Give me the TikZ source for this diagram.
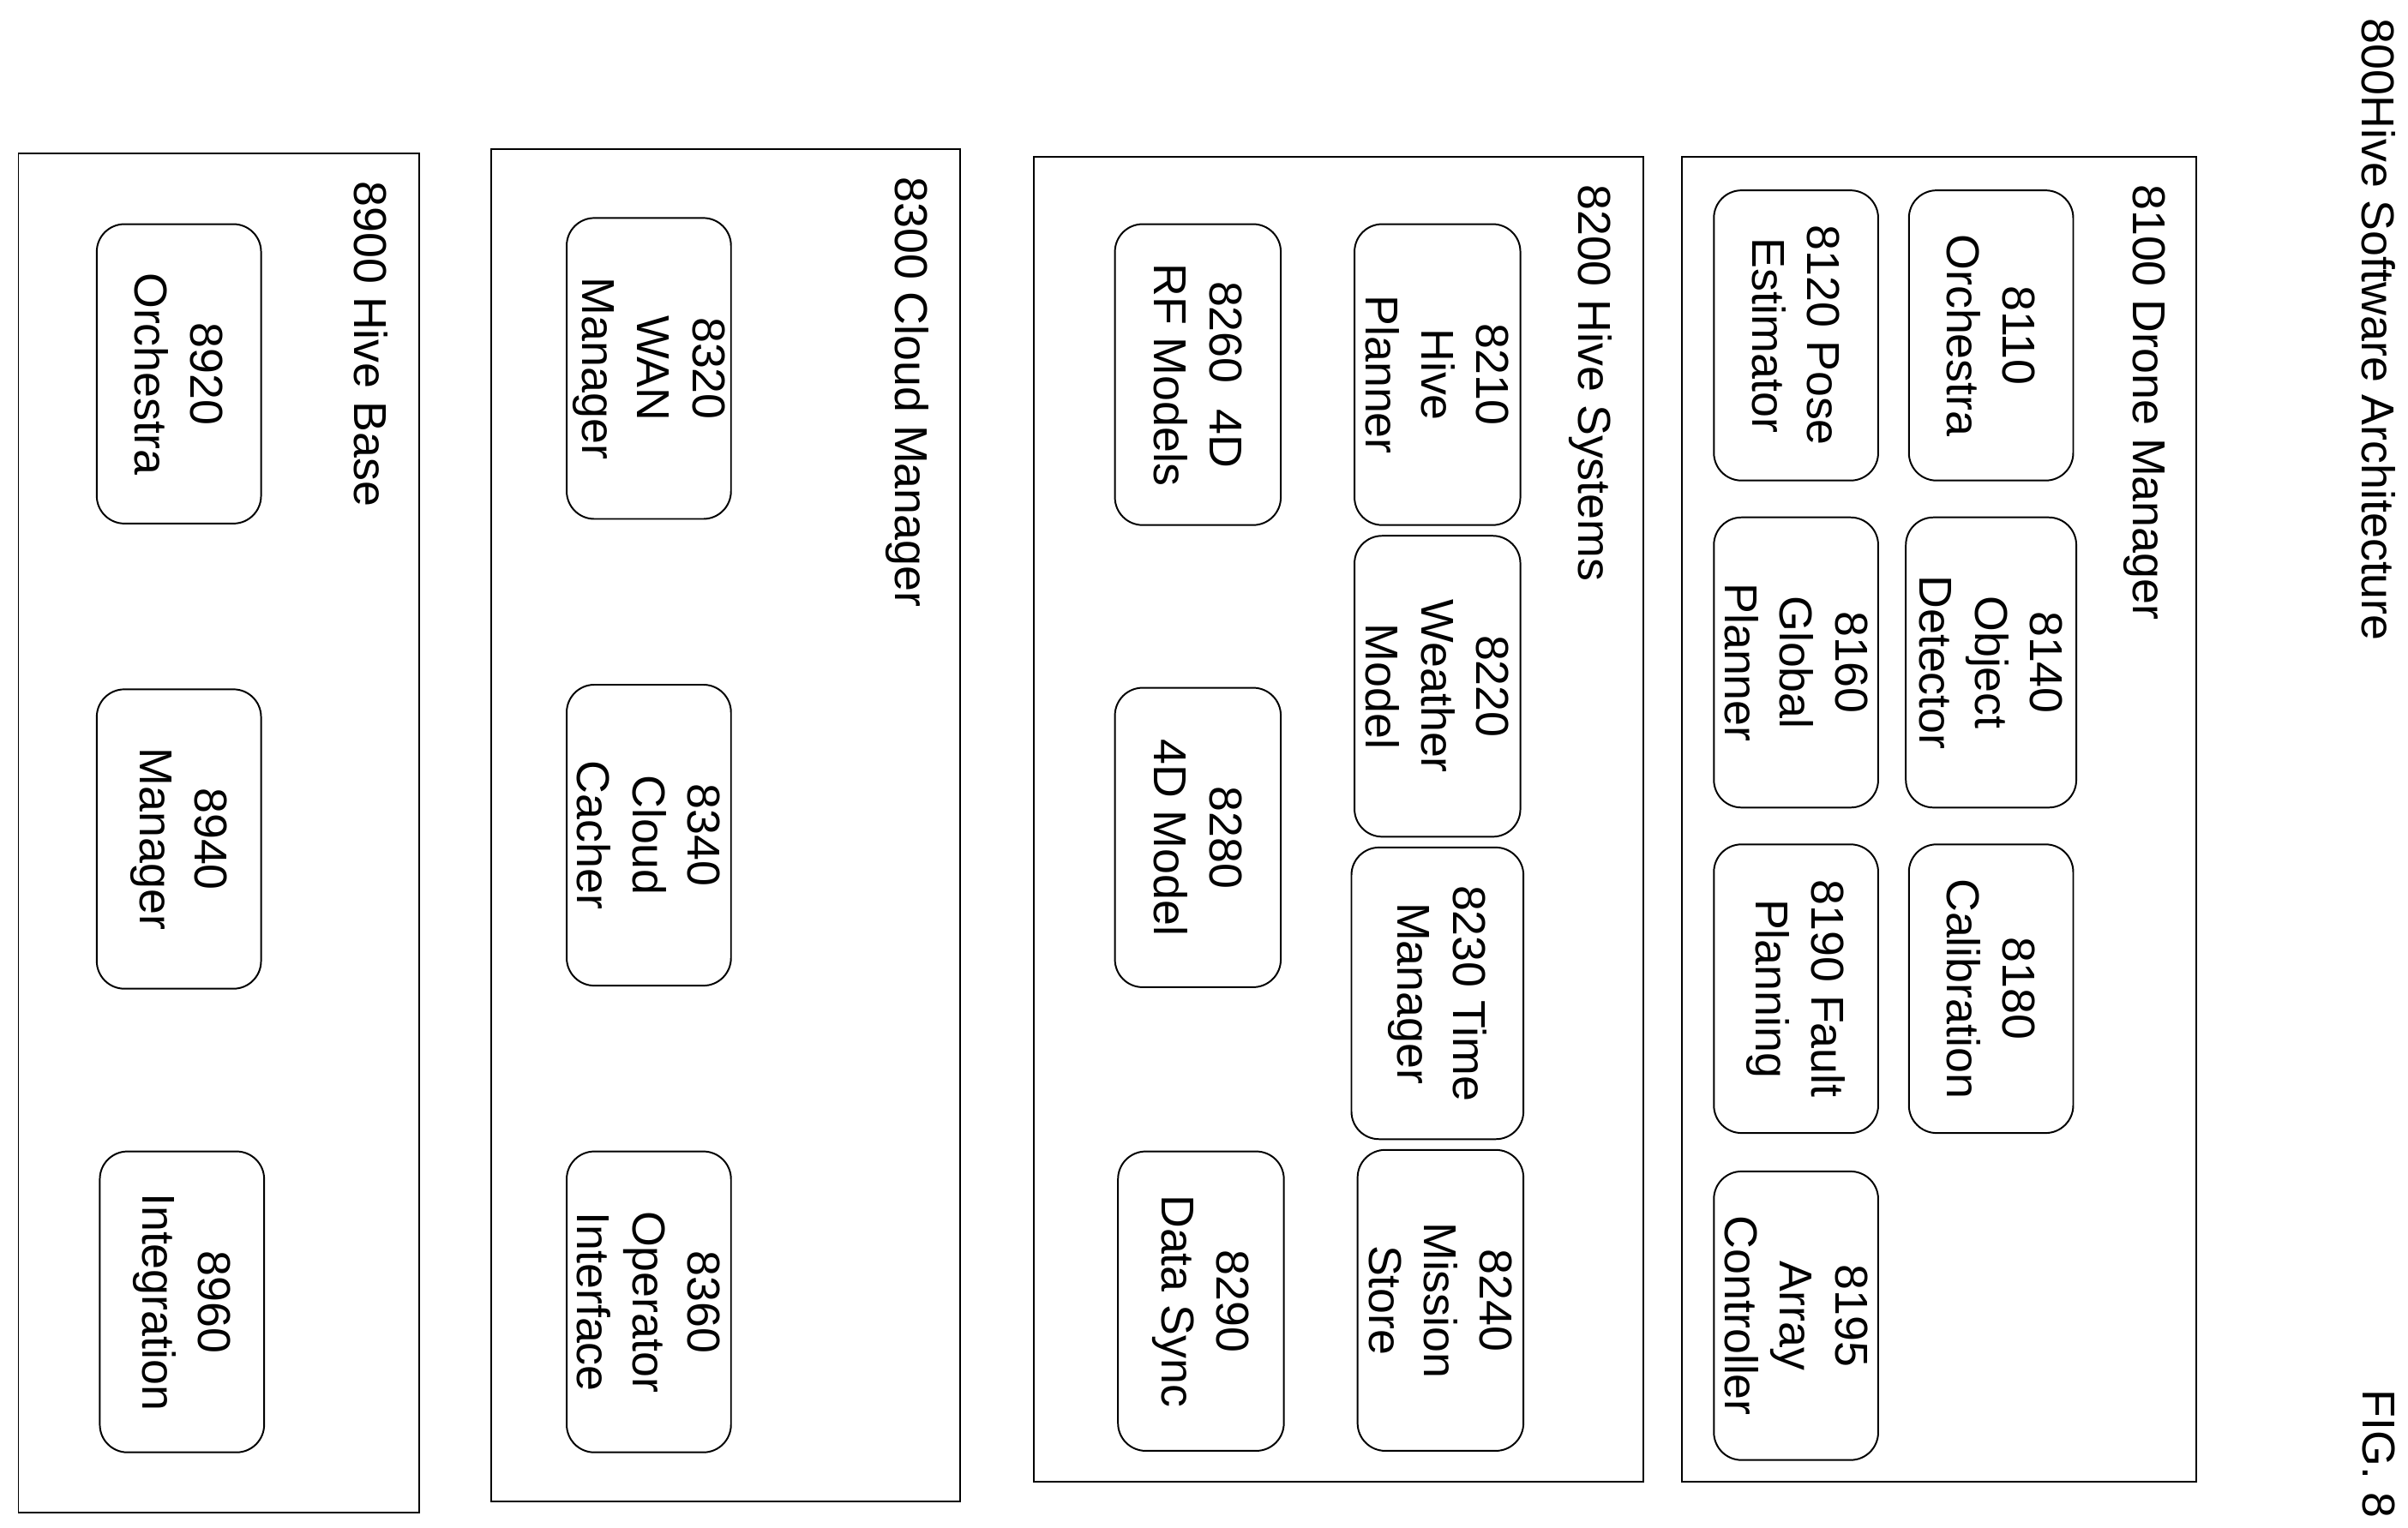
\documentclass[tikz,border=0pt]{standalone}
\usepackage{fontspec}
\setmainfont{Liberation Sans}
\begin{document}
\newcommand{\mybx}[7][inbox]{%
  \pgfmathsetmacro{\cx}{(#3+#4)/2}\pgfmathsetmacro{\cy}{(#5+#6)/2}%
  \pgfmathsetmacro{\ww}{#6-#5}\pgfmathsetmacro{\hh}{#4-#3}%
  \node[#1,minimum width=\ww pt,minimum height=\hh pt] (#2) at (\cx,\cy) {#7};}
\begin{tikzpicture}[x=1pt,y=-1pt,
  inbox/.style={draw,rounded corners=18pt,line width=1.1pt,rotate=-90,align=center,font=\fontsize{30}{36}\selectfont,inner sep=0pt},
  outbox/.style={draw,line width=1.1pt,rotate=-90,inner sep=0pt},
  lbl/.style={rotate=-90,anchor=north west,font=\fontsize{30}{36}\selectfont,inner sep=0pt}]
\useasboundingbox (0,0) rectangle (1568,995);
\node[lbl] (title) at (1560,12) {800Hive Software Architecture};
\node[lbl] (fig) at (1560,905) {FIG. 8};
\mybx[outbox]{g8100}{1095}{1430}{102}{965}{}
\mybx[outbox]{g8200}{673}{1070}{102}{965}{}
\mybx[outbox]{g8300}{320}{625}{97}{978}{}
\mybx[outbox]{g8900}{12}{273}{100}{985}{}
\node[lbl] (l8100) at (1410,120) {8100 Drone Manager};
\node[lbl] (l8200) at (1050,120) {8200 Hive Systems};
\node[lbl] (l8300) at (605,115) {8300 Cloud Manager};
\node[lbl] (l8900) at (253,118) {8900 Hive Base};
\mybx{b8110}{1243}{1350}{124}{313}{8110\\Orchestra}
\mybx{b8120}{1116}{1223}{124}{313}{8120 Pose\\Estimator}
\mybx{b8140}{1241}{1352}{337}{526}{8140\\Object\\Detector}
\mybx{b8160}{1116}{1223}{337}{526}{8160\\Global\\Planner}
\mybx{b8180}{1243}{1350}{550}{738}{8180\\Calibration}
\mybx{b8190}{1116}{1223}{550}{738}{8190 Fault\\Planning}
\mybx{b8195}{1116}{1223}{763}{951}{8195\\Array\\Controller}
\mybx{b8210}{882}{990}{146}{342}{8210\\Hive\\Planner}
\mybx{b8220}{882}{990}{349}{545}{8220\\Weather\\Model}
\mybx{b8230}{880}{992}{552}{742}{8230 Time\\Manager}
\mybx{b8240}{884}{992}{749}{945}{8240\\Mission\\Store}
\mybx{b8260}{726}{834}{146}{342}{8260\ \ 4D\\RF Models}
\mybx{b8280}{726}{834}{448}{643}{8280\\4D Model}
\mybx{b8290}{728}{836}{750}{945}{8290\\Data Sync}
\mybx{b8320}{369}{476}{142}{338}{8320\\WAN\\Manager}
\mybx{b8340}{369}{476}{446}{642}{8340\\Cloud\\Cacher}
\mybx{b8360}{369}{476}{750}{946}{8360\\Operator\\Interface}
\mybx{b8920}{63}{170}{146}{341}{8920\\Orchestra}
\mybx{b8940}{63}{170}{449}{644}{8940\\Manager}
\mybx{b8960}{65}{172}{750}{946}{8960\\Integration}
\end{tikzpicture}
\end{document}
